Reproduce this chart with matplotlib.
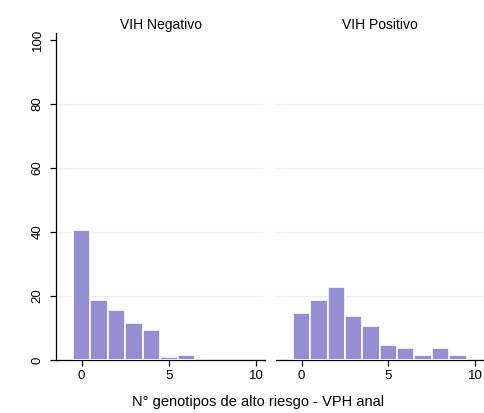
import matplotlib
matplotlib.use("Agg")
import matplotlib.pyplot as plt
import numpy as np

plt.rcParams['font.family'] = ['Liberation Sans', 'DejaVu Sans']

# Percentage of patients by number of high-risk anal HPV genotypes
genotypes_neg = [0, 1, 2, 3, 4, 5, 6]
percent_neg = [40.6, 18.8, 15.6, 11.7, 9.4, 0.8, 1.6]

genotypes_pos = [0, 1, 2, 3, 4, 5, 6, 7, 8, 9]
percent_pos = [14.8, 18.8, 22.7, 13.6, 10.7, 4.6, 3.8, 1.6, 3.8, 1.6]

panel_titles = ["VIH Negativo", "VIH Positivo"]
x_label = "N° genotipos de alto riesgo - VPH anal"
y_ticks = [0, 20, 40, 60, 80, 100]
x_ticks = [0, 5, 10]

bar_color = "#948ED2"
grid_color = "#E6EFF5"

W, H = 484, 413
fig = plt.figure(figsize=(W / 100, H / 100), dpi=100)

def px_axes(left, right, top, bottom):
    return fig.add_axes([left / W, 1 - bottom / H, (right - left) / W, (bottom - top) / H])

panels = [
    (px_axes(56, 265, 33, 360), genotypes_neg, percent_neg, True),
    (px_axes(276, 484, 33, 360), genotypes_pos, percent_pos, False),
]

for (ax, xs, ys, show_y), title in zip(panels, panel_titles):
    ax.bar(xs, ys, width=1.0, color=bar_color, edgecolor="white", linewidth=1.2, zorder=3)
    ax.set_xlim(-1.47, 10.5)
    ax.set_ylim(0, 102.2)
    for g in [20, 40, 60, 80]:
        ax.axhline(g, color=grid_color, linewidth=0.9, zorder=1)
    for s in ["top", "right"]:
        ax.spines[s].set_visible(False)
    ax.spines["bottom"].set_linewidth(0.9)
    ax.spines["left"].set_linewidth(0.9)
    ax.set_xticks(x_ticks)
    ax.tick_params(axis="x", length=4, width=0.9, pad=3, labelsize=9.5)
    if show_y:
        ax.set_yticks(y_ticks)
        ax.set_yticklabels([str(v) for v in y_ticks], rotation=90, va="center")
        ax.tick_params(axis="y", length=4, width=0.9, pad=5, labelsize=9.5)
    else:
        ax.spines["left"].set_visible(False)
        ax.set_yticks([])
    ax.set_title(title, fontsize=10, pad=3)

fig.text(258 / W, 1 - 402 / H, x_label, ha="center", va="center", fontsize=10.5)

fig.savefig("out.png", dpi=100)
